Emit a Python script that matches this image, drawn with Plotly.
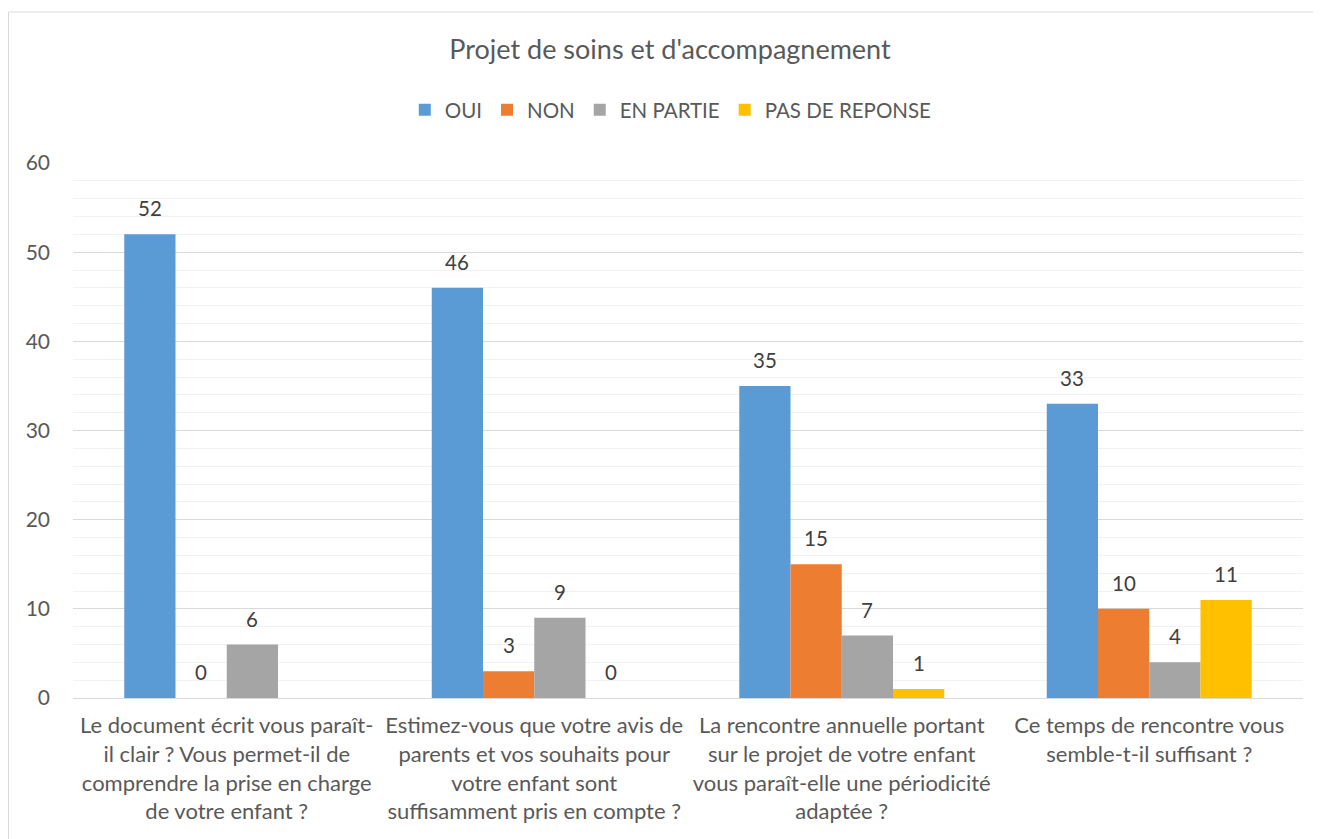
import plotly.graph_objects as go

# Données
questions = [
    "Le document écrit vous paraît-<br>il clair ? Vous permet-il de<br>comprendre la prise en charge<br>de votre enfant ?",
    "Estimez-vous que votre avis de<br>parents et vos souhaits pour<br>votre enfant sont<br>suffisamment pris en compte ?",
    "La rencontre annuelle portant<br>sur le projet de votre enfant<br>vous paraît-elle une périodicité<br>adaptée ?",
    "Ce temps de rencontre vous<br>semble-t-il suffisant ?",
]
oui = [52, 46, 35, 33]
non = [0, 3, 15, 10]
en_partie = [6, 9, 7, 4]
pas_de_reponse = [None, 0, 1, 11]

series = [
    ("OUI", oui, "#5B9BD5"),
    ("NON", non, "#ED7D31"),
    ("EN PARTIE", en_partie, "#A5A5A5"),
    ("PAS DE REPONSE", pas_de_reponse, "#FFC000"),
]

FONT = "Lato, Carlito, Calibri, sans-serif"

# la page ajoute une marge de 8 px autour de la figure
W, H = 1313, 831
L, R, T, B = 65, 18, 155, 141
plot_w = W - L - R
plot_h = H - T - B

fig = go.Figure()
for nom, vals, couleur in series:
    fig.add_trace(go.Bar(
        name=nom, x=questions, y=vals,
        marker=dict(color=couleur, line=dict(width=0)),
    ))

# étiquettes de données (au-dessus des barres)
largeur_barre = plot_w / len(questions) * (2 / 3) / len(series)
for i, (nom, vals, couleur) in enumerate(series):
    decal = (i - (len(series) - 1) / 2) * largeur_barre
    for q, v in zip(questions, vals):
        if v is None:
            continue
        fig.add_annotation(x=q, y=v, xref="x", yref="y", text=str(v),
                           showarrow=False, xshift=decal, yshift=26, yanchor="middle",
                           font=dict(size=20.5, color="#404040", family=FONT))

fig.update_layout(
    width=W, height=H,
    paper_bgcolor="white", plot_bgcolor="white",
    font=dict(family=FONT, color="#595959", size=19),
    title=dict(text="Projet de soins et d'accompagnement", x=662 / W, xanchor="center",
               y=1 - 42 / H, yanchor="middle",
               font=dict(size=27, color="#595959", family=FONT)),
    barmode="group", bargap=1 / 3, bargroupgap=0,
    margin=dict(l=L, r=R, t=T, b=B),
    legend=dict(orientation="h", x=0.486, xanchor="center", y=1 + 53 / plot_h, yanchor="middle",
                font=dict(size=20.5, color="#595959", family=FONT),
                itemwidth=30, tracegroupgap=0),
    showlegend=True,
)

fig.update_yaxes(
    range=[0, 60], dtick=10, showgrid=True, gridcolor="#D9D9D9", gridwidth=1,
    minor=dict(dtick=2, showgrid=True, gridcolor="#F2F2F2", gridwidth=1),
    zeroline=False, showline=False, ticks="", ticklabelstandoff=22,
    tickfont=dict(size=21, color="#595959"),
)
fig.update_xaxes(
    showline=True, linecolor="#D9D9D9", linewidth=1, ticks="",
    tickfont=dict(size=22, color="#595959"), tickangle=0, ticklabelstandoff=8,
)

# Cadre du graphique
fig.add_shape(type="rect", xref="paper", yref="paper",
              x0=-(L - 0.5) / plot_w, x1=1.2, y0=-0.4, y1=1 + (T - 4) / plot_h,
              line=dict(color="#D9D9D9", width=1), fillcolor="rgba(0,0,0,0)", layer="below")

fig.write_html("out.html")
